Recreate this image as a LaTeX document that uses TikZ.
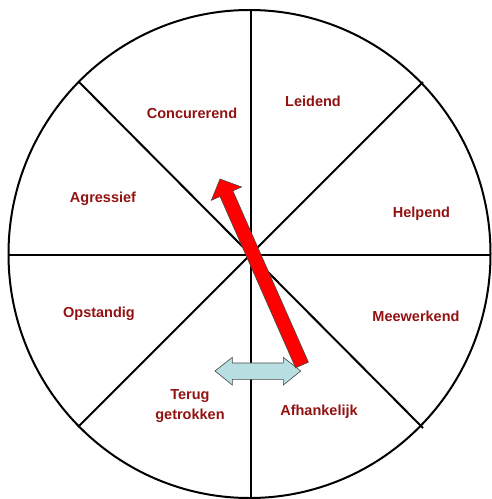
\documentclass[tikz,border=0pt]{standalone}
\usepackage{fontspec}
\setmainfont{Liberation Sans}
\definecolor{lbl}{RGB}{146,18,18}
\definecolor{arrred}{RGB}{255,0,0}
\definecolor{arrcyan}{RGB}{183,223,225}
\definecolor{edge}{RGB}{70,70,70}
\begin{document}
\begin{tikzpicture}[x=1pt,y=-1pt,
  seg/.style={line width=2pt,black},
  lbltext/.style={text=lbl,font=\fontsize{14.5}{20}\selectfont\bfseries,inner sep=0pt,anchor=base,align=center},
  bigarrow/.style={line width=0.6pt,draw=edge,line join=miter}]
\useasboundingbox (0,0) rectangle (491,499);
% circle and spokes
\coordinate (c) at (251,255);
\draw[seg] (249.5,254) ellipse [x radius=241pt, y radius=244pt];
\coordinate (top) at (251,10);
\coordinate (bot) at (251,498);
\coordinate (lft) at (8,255);
\coordinate (rgt) at (490.5,255);
\coordinate (ul) at (79,82);
\coordinate (ur) at (423,82);
\coordinate (ll) at (78,427);
\coordinate (lr) at (423,428);
\draw[seg] (top) -- (bot);
\draw[seg] (lft) -- (rgt);
\draw[seg] (ul) -- (lr);
\draw[seg] (ur) -- (ll);
% labels
\node[lbltext] (concurerend) at (192,118) {Concurerend};
\node[lbltext] (leidend) at (313,106.5) {Leidend};
\node[lbltext] (helpend) at (421.5,217) {Helpend};
\node[lbltext] (meewerkend) at (416,321) {Meewerkend};
\node[lbltext] (agressief) at (103,202) {Agressief};
\node[lbltext] (opstandig) at (99,317) {Opstandig};
\node[lbltext] (afhankelijk) at (319,415) {Afhankelijk};
\node[lbltext] (terug) at (190,419) {Terug\\getrokken};
% cyan double arrow
\filldraw[bigarrow,fill=arrcyan]
  (215,371) -- (232.3,357.3) -- (232.3,363) -- (283.3,363) -- (283.3,357.3)
  -- (300.7,371) -- (283.3,385) -- (283.3,379.3) -- (232.3,379.3) -- (232.3,385) -- cycle;
% red arrow
\filldraw[bigarrow,fill=arrred]
  (308.4,362.2) -- (232.85,190.82) -- (241.55,186.99) -- (220,179)
  -- (211.35,200.29) -- (220.05,196.46) -- (295.6,367.8) -- cycle;
\end{tikzpicture}
\end{document}
